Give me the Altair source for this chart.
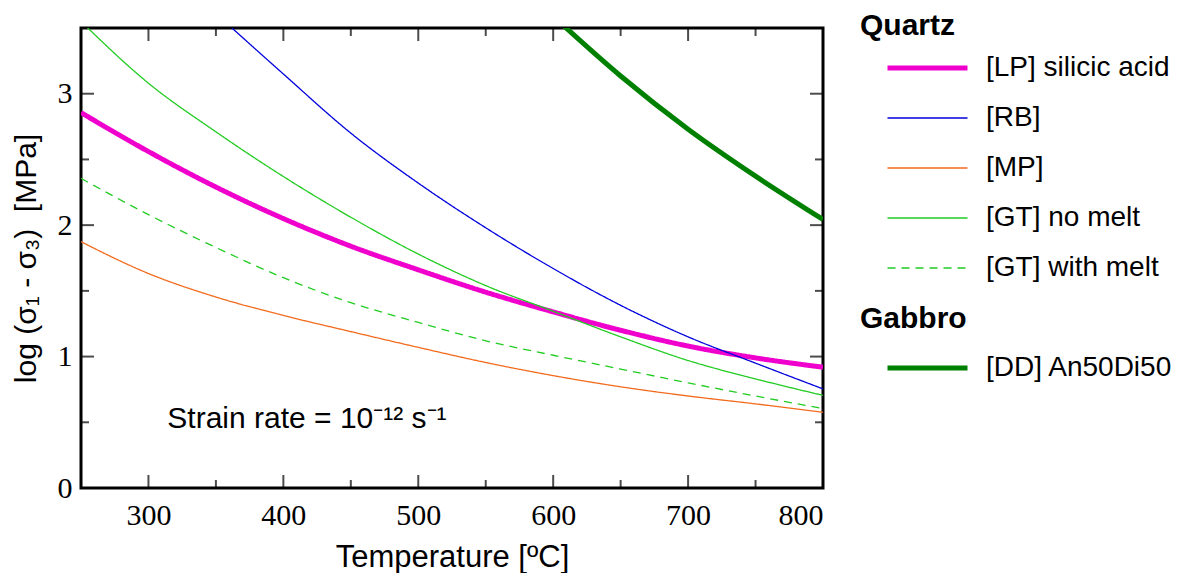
import altair as alt
import pandas as pd

# ---------------- data ----------------
lp_T = [250, 300, 350, 400, 450, 500, 550, 600, 650, 700, 750, 800]
lp_v = [2.856, 2.56, 2.29, 2.05, 1.84, 1.66, 1.49, 1.34, 1.20, 1.08, 0.99, 0.919]

rb_T = [350, 400, 450, 500, 550, 600, 650, 700, 750, 800]
rb_v = [3.61, 3.15, 2.70, 2.32, 1.98, 1.67, 1.39, 1.15, 0.95, 0.754]

mp_T = [250, 300, 350, 400, 450, 500, 550, 600, 650, 700, 750, 800]
mp_v = [1.874, 1.632, 1.453, 1.313, 1.19, 1.07, 0.955, 0.855, 0.77, 0.70, 0.64, 0.576]

gt_T = [250, 300, 350, 400, 450, 500, 550, 600, 650, 700, 750, 800]
gt_v = [3.55, 3.08, 2.71, 2.37, 2.06, 1.78, 1.54, 1.345, 1.15, 0.97, 0.83, 0.705]

gtm_T = [250, 300, 350, 400, 450, 500, 550, 600, 650, 700, 750, 800]
gtm_v = [2.356, 2.08, 1.83, 1.60, 1.41, 1.26, 1.12, 1.01, 0.905, 0.80, 0.70, 0.604]

dd_T = [600, 650, 700, 750, 800]
dd_v = [3.59, 3.135, 2.73, 2.373, 2.043]

quartz_names = ["[LP] silicic acid", "[RB]", "[MP]", "[GT] no melt", "[GT] with melt"]
quartz_colors = ["#F000CC", "#0000DD", "#F26B1D", "#22CC22", "#22CC22"]
quartz_dashes = [[1, 0], [1, 0], [1, 0], [1, 0], [8, 6]]
quartz_widths = [5, 1.3, 1.3, 1.3, 1.3]

gabbro_names = ["[DD] An50Di50"]
gabbro_colors = ["#008000"]

x_labels = [300, 400, 500, 600, 700, 800]
y_labels = [0, 1, 2, 3]
x_major = [300, 400, 500, 600, 700]
x_minor = [350, 450, 550, 650, 750]
y_major = [1, 2, 3]
y_minor = [0.5, 1.5, 2.5]

ann_T = [314]
ann_v = [0.46]
ann_text = ["Strain rate = 10\u207b\u00b9\u00b2 s\u207b\u00b9"]

X_DOMAIN = [250, 800]
Y_DOMAIN = [0, 3.5]

# ---------------- tables ----------------
rows = []
for name, Ts, vs in zip(quartz_names, [lp_T, rb_T, mp_T, gt_T, gtm_T],
                        [lp_v, rb_v, mp_v, gt_v, gtm_v]):
    for t, v in zip(Ts, vs):
        rows.append({"T": t, "v": v, "series": name})
quartz_df = pd.DataFrame(rows)
gabbro_df = pd.DataFrame({"T": dd_T, "v": dd_v, "series": gabbro_names * len(dd_T)})
ann_df = pd.DataFrame({"T": ann_T, "v": ann_v, "label": ann_text})

xscale = alt.Scale(domain=X_DOMAIN, nice=False, zero=False)
yscale = alt.Scale(domain=Y_DOMAIN, nice=False, zero=False)
x_axis = alt.Axis(values=x_labels, title="Temperature [ºC]", labelPadding=12,
                  titlePadding=12, titleFontSize=31, format="d")
y_axis = alt.Axis(values=y_labels, title="log (σ\u2081 - σ\u2083)\u00a0\u00a0[MPa]",
                  labelPadding=9, titlePadding=16, titleFontSize=30, format="d")

X = alt.X("T:Q", scale=xscale, axis=x_axis)
Y = alt.Y("v:Q", scale=yscale, axis=y_axis)

quartz_legend = alt.Legend(title="Quartz", orient="none", legendX=779, legendY=-17,
                           titlePadding=12)

quartz = alt.Chart(quartz_df).mark_line(clip=True, interpolate="monotone").encode(
    x=X, y=Y,
    color=alt.Color("series:N", sort=quartz_names,
                    scale=alt.Scale(domain=quartz_names, range=quartz_colors),
                    legend=quartz_legend),
    strokeDash=alt.StrokeDash("series:N", sort=quartz_names,
                              scale=alt.Scale(domain=quartz_names, range=quartz_dashes),
                              legend=quartz_legend),
    strokeWidth=alt.StrokeWidth("series:N", sort=quartz_names,
                                scale=alt.Scale(type="ordinal", domain=quartz_names,
                                                range=quartz_widths),
                                legend=quartz_legend),
)

gabbro = alt.Chart(gabbro_df).mark_line(clip=True, interpolate="monotone", strokeWidth=5).encode(
    x=X, y=Y,
    color=alt.Color("series:N",
                    scale=alt.Scale(domain=gabbro_names, range=gabbro_colors),
                    legend=alt.Legend(title="Gabbro", orient="none", legendX=779, legendY=276,
                                      symbolStrokeWidth=5, titlePadding=19)),
)

ann = alt.Chart(ann_df).mark_text(align="left", baseline="alphabetic", fontSize=30,
                                  font="Liberation Sans", color="black").encode(
    x=X, y=Y, text="label:N")


def xticks(vals, size):
    d = pd.DataFrame({"T": vals})
    base = alt.Chart(d).mark_tick(orient="vertical", size=size, thickness=2,
                                  color="black", clip=True)
    return [base.encode(x=X, y=alt.YDatum(Y_DOMAIN[0], type="quantitative", scale=yscale, axis=y_axis)),
            base.encode(x=X, y=alt.YDatum(Y_DOMAIN[1], type="quantitative", scale=yscale, axis=y_axis))]


def yticks(vals, size):
    d = pd.DataFrame({"v": vals})
    base = alt.Chart(d).mark_tick(orient="horizontal", size=size, thickness=2,
                                  color="black", clip=True)
    return [base.encode(y=Y, x=alt.XDatum(X_DOMAIN[0], type="quantitative", scale=xscale, axis=x_axis)),
            base.encode(y=Y, x=alt.XDatum(X_DOMAIN[1], type="quantitative", scale=xscale, axis=x_axis))]


tick_layers = xticks(x_major, 26) + xticks(x_minor, 16) + yticks(y_major, 26) + yticks(y_minor, 16)

chart = alt.layer(quartz, gabbro, ann, *tick_layers).resolve_scale(
    color="independent", strokeDash="independent", strokeWidth="independent"
).properties(
    width=742, height=460,
    autosize=alt.AutoSizeParams(type="none"),
    padding={"left": 73, "top": 20, "right": 360, "bottom": 85},
).configure_view(
    stroke="black", strokeWidth=3
).configure_axis(
    labelFont="Liberation Serif", labelFontSize=30, labelColor="black",
    titleFont="Liberation Sans", titleFontWeight="normal", titleColor="black",
    ticks=False, domain=False, grid=False,
).configure_legend(
    labelFont="Liberation Sans", labelFontSize=28, labelColor="black",
    titleFont="Liberation Sans", titleFontSize=30, titleFontWeight="bold", titleColor="black",
    symbolType="stroke", symbolSize=6400, clipHeight=30, rowPadding=20,
    symbolOffset=25, labelOffset=16, padding=0, labelLimit=400,
)

chart.save("out.html", embed_options={"renderer": "svg", "actions": False})
